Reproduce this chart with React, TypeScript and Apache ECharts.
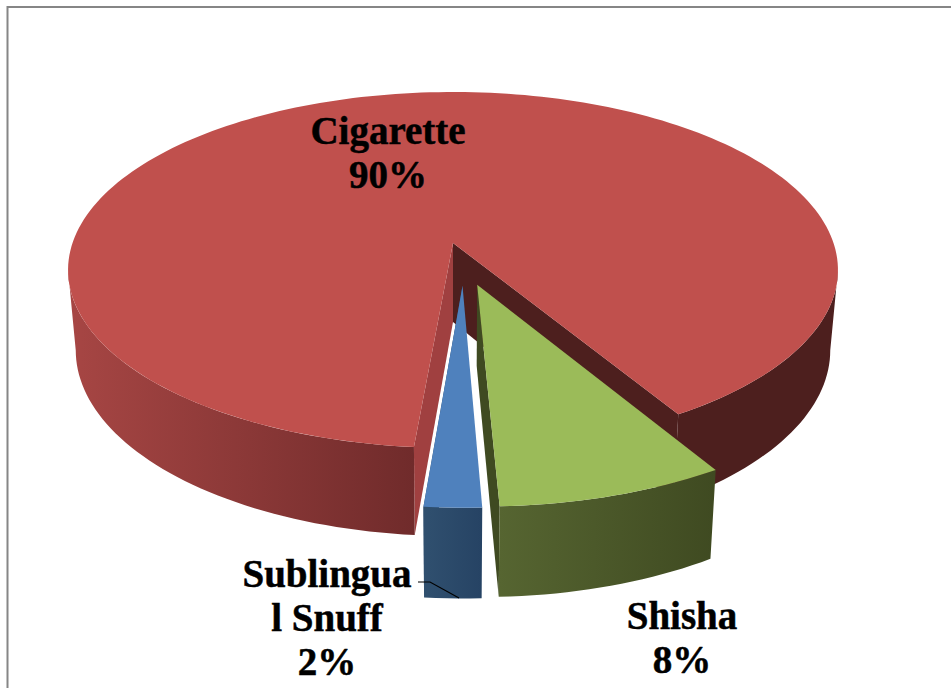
import React, { useEffect, useRef } from "react";
import * as echarts from "echarts";

const categories = ["Cigarette", "Sublingua\nl Snuff", "Shisha"];
const shares = [90, 2, 8];

const topColors = ["#C0504D", "#4F81BD", "#9BBB59"];
const wallRamps = [
  ["#A74644", "#702B2B"],
  ["#30506F", "#264364"],
  ["#566531", "#3F4A21"],
];
const shadeColors = ["#4D1F1E", "#264364", "#3F4A21"];
const labelAnchors: number[][] = [
  [388, 152],
  [327, 617],
  [682, 637],
];

// Perspective view of the pie: a disc seen from above and in front.
const FIRST_ANGLE = 31;
const EXPLODE = 0.12;
const PERSPECTIVE = 0.1517;
const ORIGIN_X = 453;
const TOP_Y = 243;
const BOTTOM_Y = 322;
const SCALE_X = 380.5;
const SCALE_Y = 173.9;
const BOTTOM_SCALE_X = 0.98;
const BOTTOM_SCALE_Y = 1.044;
const RAD = Math.PI / 180;
const EDGE_ANGLE = Math.acos(PERSPECTIVE) / RAD;

type Pt = [number, number];

const total = shares.reduce((a, b) => a + b, 0);
const spans = shares.map((v, i) => {
  const before = shares.slice(0, i).reduce((a, b) => a + b, 0);
  const from = FIRST_ANGLE + (before / total) * 360;
  return { from, to: from + (v / total) * 360, mid: from + (v / total) * 180 };
});

// The largest slice stays anchored; the rest are measured from it.
const anchorU = EXPLODE * Math.sin(spans[0].mid * RAD);
const anchorV = EXPLODE * Math.cos(spans[0].mid * RAD);

function project(u: number, v: number, bottom: boolean): Pt {
  const w = 1 - PERSPECTIVE * v;
  const sx = bottom ? SCALE_X * BOTTOM_SCALE_X : SCALE_X;
  const sy = bottom ? SCALE_Y * BOTTOM_SCALE_Y : SCALE_Y;
  return [ORIGIN_X + (sx * u) / w, (bottom ? BOTTOM_Y : TOP_Y) + (sy * v) / w];
}

function sliceGeometry(i: number) {
  const { mid } = spans[i];
  const ou = EXPLODE * Math.sin(mid * RAD) - anchorU;
  const ov = EXPLODE * Math.cos(mid * RAD) - anchorV;
  const rim = (deg: number, bottom: boolean) =>
    project(ou + Math.sin(deg * RAD), ov + Math.cos(deg * RAD), bottom);
  const apex = (bottom: boolean) => project(ou, ov, bottom);
  const arc = (a: number, b: number, bottom: boolean) => {
    const n = Math.max(2, Math.ceil(Math.abs(b - a) / 1.5));
    const pts: Pt[] = [];
    for (let k = 0; k <= n; k++) pts.push(rim(a + ((b - a) * k) / n, bottom));
    return pts;
  };
  return { rim, apex, arc };
}

function wallBand(g: ReturnType<typeof sliceGeometry>, a: number, b: number): Pt[] {
  return [...g.arc(a, b, false), ...g.arc(b, a, true)];
}

function poly(points: Pt[], fill: unknown) {
  return {
    type: "polygon",
    shape: { points },
    style: { fill, stroke: "none" },
    silent: true,
  };
}

function ramp(colors: string[]) {
  return new echarts.graphic.LinearGradient(0, 0, 1, 0, [
    { offset: 0, color: colors[0] },
    { offset: 1, color: colors[1] },
  ]);
}

function renderSlice(params: { dataIndex: number }) {
  const i = params.dataIndex;
  const { from, to } = spans[i];
  const g = sliceGeometry(i);
  const children: unknown[] = [];

  // Inner faces of the cut, then the outer rim, then the flat top.
  if (i === 0) {
    children.push(
      poly([g.apex(false), g.rim(from, false), g.rim(from, true), g.apex(true)], shadeColors[0]),
      poly([g.apex(false), g.rim(to, false), g.rim(to, true), g.apex(true)], "#A04040"),
      poly(wallBand(g, from, EDGE_ANGLE), shadeColors[0]),
      poly(wallBand(g, 360 - EDGE_ANGLE, to), ramp(wallRamps[0]))
    );
  } else {
    children.push(
      poly([g.apex(false), g.rim(from, false), g.rim(from, true), g.apex(true)], shadeColors[i]),
      poly(wallBand(g, from, to), ramp(wallRamps[i]))
    );
  }
  children.push(poly([g.apex(false), ...g.arc(from, to, false)], topColors[i]));
  return { type: "group", children };
}

function renderLabels(params: { dataIndex: number }) {
  const i = params.dataIndex;
  return {
    type: "text",
    x: labelAnchors[i][0],
    y: labelAnchors[i][1],
    style: {
      text: `${categories[i]}\n${shares[i]}%`,
      fill: "#000000",
      stroke: "#000000",
      lineWidth: 0.5,
      font: 'bold 39px "Liberation Serif"',
      lineHeight: 44,
      align: "center",
      verticalAlign: "middle",
    },
    silent: true,
  };
}

export default function App() {
  const ref = useRef<HTMLDivElement>(null);
  useEffect(() => {
    document.body.style.margin = "0";
    const chart = echarts.init(ref.current!, undefined, { renderer: "svg" });
    chart.setOption({
      animation: false,
      backgroundColor: "#FFFFFF",
      graphic: [
        {
          type: "polyline",
          z: 5,
          shape: { points: [[7.5, 688], [7.5, 7], [951, 7]] },
          style: { stroke: "#868686", lineWidth: 2, fill: "none" },
          silent: true,
        },
      ],
      series: [
        {
          type: "custom",
          coordinateSystem: "none",
          renderItem: renderSlice,
          data: shares,
          z: 1,
        },
        {
          type: "custom",
          coordinateSystem: "none",
          renderItem: renderLabels,
          data: shares,
          z: 3,
        },
        {
          type: "custom",
          coordinateSystem: "none",
          renderItem: () => ({
            type: "polyline",
            shape: { points: [[418, 582], [430, 582], [459, 598]] },
            style: { stroke: "#000000", lineWidth: 1.2, fill: "none" },
            silent: true,
          }),
          data: [1],
          z: 2,
        },
      ],
    });
    return () => chart.dispose();
  }, []);
  return <div ref={ref} style={{ width: 951, height: 688 }} />;
}
